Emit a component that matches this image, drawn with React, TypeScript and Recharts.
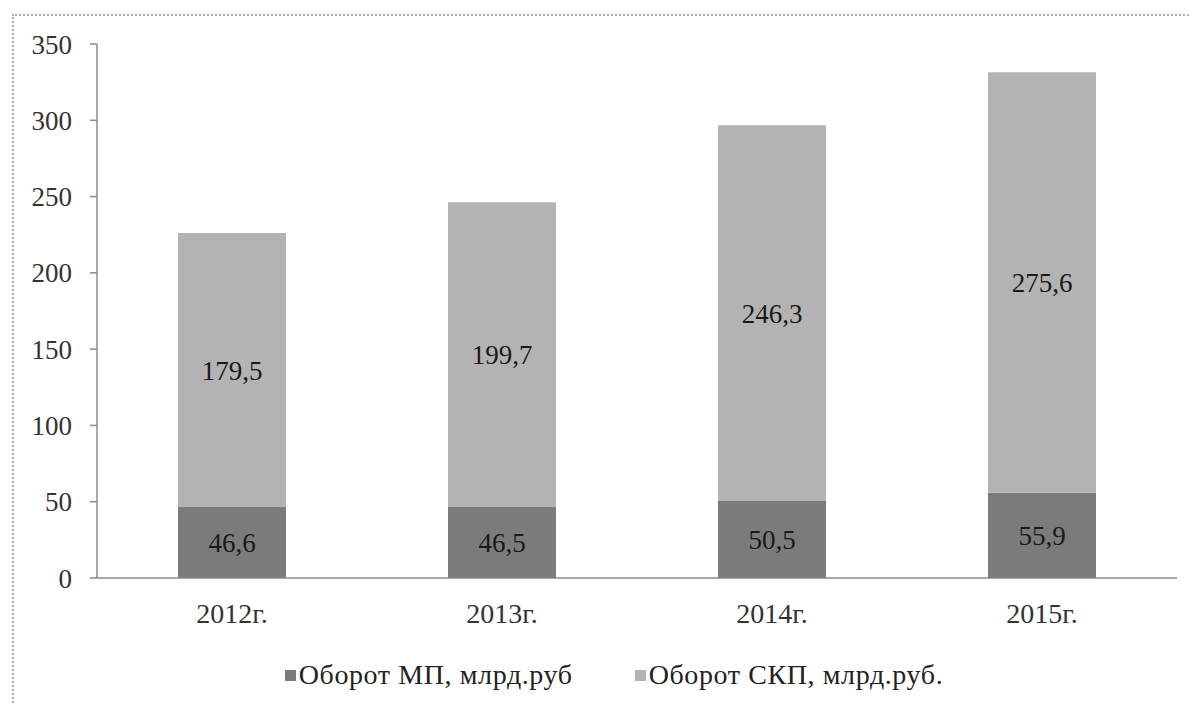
import React from "react";
import { BarChart, Bar, XAxis, YAxis, Legend, LabelList } from "recharts";

const categories = ["2012г.", "2013г.", "2014г.", "2015г."];
const mpValues = [46.6, 46.5, 50.5, 55.9];
const skpValues = [179.5, 199.7, 246.3, 275.6];
const yTicks = [0, 50, 100, 150, 200, 250, 300, 350];
const seriesNames = ["Оборот МП, млрд.руб", "Оборот СКП, млрд.руб."];
const colors = ["#7b7b7b", "#b3b3b3"];

const data = categories.map((c, i) => ({ name: c, mp: mpValues[i], skp: skpValues[i] }));

const FONT = "Liberation Serif, Times New Roman, serif";
const fmt = (v: any) => String(v).replace(".", ",");

const LegendContent = () => (
  <div
    style={{
      display: "flex",
      justifyContent: "center",
      alignItems: "center",
      height: 30,
      paddingLeft: 37,
      fontFamily: FONT,
      fontSize: 28,
      letterSpacing: 0.6,
      color: "#222",
    }}
  >
    {seriesNames.map((n, i) => (
      <div key={n} style={{ display: "flex", alignItems: "center", marginRight: i === 0 ? 62 : 0 }}>
        <span style={{ display: "inline-block", width: 11, height: 11, background: colors[i], marginRight: 3 }} />
        <span>{n}</span>
      </div>
    ))}
  </div>
);

export default function App() {
  return (
    <div style={{ position: "absolute", left: 0, top: 0, width: 1191, height: 704, overflow: "hidden", background: "#fff", fontFamily: FONT }}>
      <div
        style={{
          position: "absolute",
          left: 12,
          top: 14,
          width: 1220,
          height: 740,
          border: "2px dotted #b0b0b0",
          boxSizing: "border-box",
        }}
      />
      <div style={{ position: "absolute", left: 0, top: 0 }}>
        <BarChart
          width={1191}
          height={704}
          data={data}
          margin={{ top: 44, right: 14, bottom: 14, left: 0 }}
          barCategoryGap="30%"
          style={{ fontFamily: FONT }}
        >
          <XAxis
            dataKey="name"
            height={82}
            tickLine={false}
            tickSize={0}
            tickMargin={25}
            axisLine={{ stroke: "#8a8a8a", strokeWidth: 1.5 }}
            tick={{ fill: "#333", fontSize: 28, fontFamily: FONT }}
          />
          <YAxis
            width={97}
            domain={[0, 350]}
            ticks={yTicks}
            interval={0}
            tickSize={7}
            tickMargin={18}
            axisLine={{ stroke: "#8a8a8a", strokeWidth: 1.5 }}
            tickLine={{ stroke: "#8a8a8a", strokeWidth: 1.5 }}
            tick={{ fill: "#333", fontSize: 27, fontFamily: FONT }}
          />
          <Legend verticalAlign="bottom" content={<LegendContent />} wrapperStyle={{ left: 0, width: 1191, height: 30 }} />
          <Bar dataKey="mp" name={seriesNames[0]} stackId="a" fill={colors[0]} isAnimationActive={false}>
            <LabelList dataKey="mp" position="center" formatter={fmt} fill="#1a1a1a" fontSize={27} fontFamily={FONT} />
          </Bar>
          <Bar dataKey="skp" name={seriesNames[1]} stackId="a" fill={colors[1]} isAnimationActive={false}>
            <LabelList dataKey="skp" position="center" formatter={fmt} fill="#1a1a1a" fontSize={27} fontFamily={FONT} />
          </Bar>
        </BarChart>
      </div>
    </div>
  );
}
